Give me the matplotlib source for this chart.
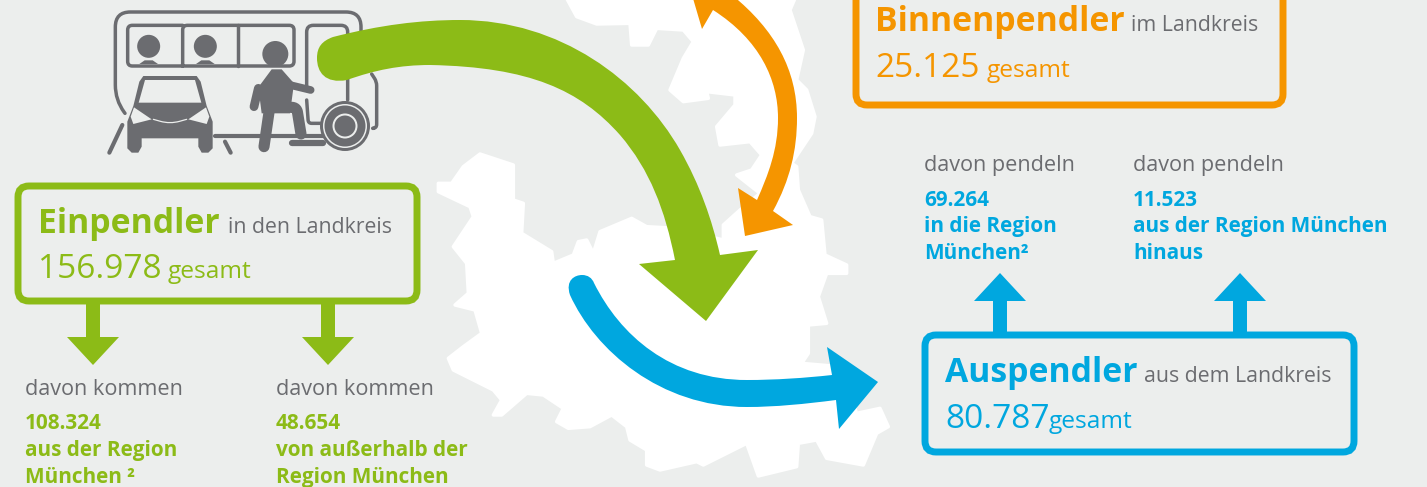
import numpy as np
import matplotlib
matplotlib.use("Agg")
import matplotlib.pyplot as plt
from matplotlib.path import Path
from matplotlib.patches import PathPatch, FancyBboxPatch, Circle, Polygon

GREEN = "#8CBB17"
ORANGE = "#F59500"
BLUE = "#00A7DF"
GRAY = "#6B6C70"
BG = "#ECEEED"

# pendler numbers and labels
titles = ["Einpendler", "Binnenpendler", "Auspendler"]
subtitles = ["in den Landkreis", "im Landkreis", "aus dem Landkreis"]
totals = ["156.978", "25.125", "80.787"]
einpendler_values = ["108.324", "48.654"]
einpendler_labels = ["aus der Region\nMünchen ²", "von außerhalb der\nRegion München"]
auspendler_values = ["69.264", "11.523"]
auspendler_labels = ["in die Region\nMünchen²", "aus der Region München\nhinaus"]

# map outline (3x crop coords)
map_outline = [(410, -5), (440, 50), (500, 72), (600, 70), (605, 135), (655, 135), (680, 85), (760, 90),
               (790, 125), (760, 175), (720, 270), (760, 305), (835, 295), (830, 275), (915, 285), (915, 315),
               (860, 380), (870, 435), (960, 425), (995, 465), (965, 510), (920, 525), (990, 580), (930, 630),
               (880, 675), (880, 720), (740, 685), (650, 680), (605, 655), (510, 695), (490, 760), (470, 720),
               (445, 725), (430, 765), (370, 790), (365, 755), (275, 700), (280, 610), (250, 600), (250, 495),
               (150, 462), (100, 500), (65, 550), (25, 550), (25, 575), (120, 620), (130, 650), (70, 740),
               (110, 790), (115, 880), (75, 915), (135, 930), (155, 1000), (100, 1040), (55, 1075), (70, 1110),
               (190, 1170), (215, 1200), (190, 1245), (215, 1245), (290, 1180), (340, 1185), (400, 1225),
               (380, 1265), (415, 1285), (480, 1280), (545, 1245), (590, 1280), (600, 1320), (650, 1350),
               (650, 1395), (690, 1410), (800, 1385), (820, 1395), (950, 1330), (985, 1428), (1100, 1400),
               (1105, 1330), (1160, 1320), (1190, 1375), (1300, 1395), (1340, 1300), (1375, 1280), (1350, 1225),
               (1280, 1240), (1230, 1100), (1115, 1090), (1135, 1060), (1135, 975), (1190, 970), (1165, 890),
               (1190, 820), (1250, 820), (1250, 795), (1185, 765), (1175, 660), (1140, 650), (1105, 570),
               (1100, 500), (1085, 490), (1145, 400), (1155, 350), (1130, 270), (1100, 240), (1120, 150),
               (1080, 30), (1095, -5)]


def curve(start, *segs, fc=GREEN, z=3):
    # segs are 3 points for a bezier, 1 point for a straight line
    verts, codes = [start], [Path.MOVETO]
    for s in segs:
        if len(s) == 3:
            verts += list(s)
            codes += [Path.CURVE4] * 3
        else:
            verts += list(s)
            codes += [Path.LINETO]
    verts.append(start)
    codes.append(Path.CLOSEPOLY)
    ax.add_patch(PathPatch(Path(verts, codes), fc=fc, ec="none", zorder=z))


def label(x, y, s, px, color=GRAY, bold=False, **kw):
    ax.text(x, y, s, fontsize=px * 0.72, color=color, family="Open Sans",
            fontweight="bold" if bold else "normal", va="baseline", ha="left", zorder=6, **kw)


def box(x0, y0, x1, y1, color):
    ax.add_patch(FancyBboxPatch((x0, y0), x1 - x0, y1 - y0, boxstyle="round,pad=0,rounding_size=11",
                                fc=BG, ec=color, lw=5, zorder=4))


def small_arrow(x, y0, y1, color, head_w=26):
    # stem from y0 to y1, head tip after y1
    d = 1 if y1 > y0 else -1
    ax.add_patch(Polygon([(x - 7, y0), (x + 7, y0), (x + 7, y1), (x + head_w, y1), (x, y1 + d * 28),
                          (x - head_w, y1), (x - 7, y1)], fc=color, ec="none", zorder=3))


fig = plt.figure(figsize=(14.27, 4.87), dpi=100, facecolor=BG)
ax = fig.add_axes([0, 0, 1, 1])
ax.set_xlim(0, 1427)
ax.set_ylim(487, 0)
ax.axis("off")

# map
ax.add_patch(Polygon([(430 + x / 3, y / 3) for x, y in map_outline], fc="white", ec="white", lw=2.5,
                     joinstyle="round", zorder=1))


# bus icon, coords from the 3x crop of it
def ic(x, y):
    return 90 + x / 3, y / 3


def iline(pts, lw=2.5, r=0, color=GRAY, closed=False):
    # polyline with rounded corners of radius r (crop coords)
    pts = [np.array(ic(*p), float) for p in pts]
    r = r / 3
    verts, codes = [pts[0]], [Path.MOVETO]
    for a, b, c in zip(pts, pts[1:], pts[2:]):
        u = (a - b) / np.linalg.norm(a - b)
        v = (c - b) / np.linalg.norm(c - b)
        verts += [b + u * r, b, b + v * r]
        codes += [Path.LINETO, Path.CURVE3, Path.CURVE3]
    verts.append(pts[-1])
    codes.append(Path.LINETO)
    ax.add_patch(PathPatch(Path(verts, codes), fc="none", ec=color, lw=lw, capstyle="round",
                           joinstyle="round", zorder=2))


def ifill(pts, color=GRAY):
    ax.add_patch(Polygon([ic(*p) for p in pts], fc=color, ec="none", zorder=2))


iline([(105, 340), (76, 300), (76, 36), (813, 36), (813, 110)], r=45)
iline([(845, 222), (860, 245), (860, 385), (850, 385)], r=12)
iline([(278, 76), (113, 76), (113, 198), (278, 198), (612, 198), (612, 76), (278, 76), (278, 198)], r=14)
iline([(443, 76), (443, 198)])
iline([(650, 270), (650, 76), (773, 76), (773, 300)], r=20)
iline([(650, 300), (655, 370), (695, 370)], r=10)
iline([(375, 408), (700, 408)], lw=3)
iline([(58, 458), (97, 375)], lw=3)
iline([(405, 425), (422, 458)], lw=3)
iline([(605, 430), (698, 430)], lw=4.5)
for cx in (176, 346):
    ax.add_patch(Circle(ic(cx, 139), 11.5, fc=GRAY, ec="none", zorder=2))
    ifill([(cx - 28, 192), (cx - 12, 181), (cx + 12, 181), (cx + 28, 192)])
# wheel
wx, wy = ic(765, 378)
ax.add_patch(Circle((wx, wy), 25, fc=GRAY, ec="none", zorder=2))
ax.add_patch(Circle((wx, wy), 22, fc=BG, ec="none", zorder=2))
ax.add_patch(Circle((wx, wy), 20.5, fc=GRAY, ec="none", zorder=2))
ax.add_patch(Circle((wx, wy), 12.5, fc=BG, ec="none", zorder=2))
ax.add_patch(Circle((wx, wy), 10.5, fc=GRAY, ec="none", zorder=2))
# car
ifill([(160, 228), (320, 228), (332, 245), (350, 318), (368, 365), (368, 445), (355, 458), (335, 458),
       (325, 440), (325, 415), (155, 415), (155, 440), (145, 458), (125, 458), (112, 445), (112, 365),
       (130, 318), (148, 245)])
ifill([(165, 240), (315, 240), (334, 308), (146, 308)], BG)
ifill([(132, 322), (185, 358), (130, 372), (122, 350)], BG)
ifill([(348, 322), (295, 358), (350, 372), (358, 350)], BG)
iline([(190, 358), (240, 372), (290, 358)], lw=0.9, r=30, color=BG)
# person
ax.add_patch(Circle(ic(556, 162), 13, fc=GRAY, ec="none", zorder=2))
ifill([(545, 208), (575, 208), (612, 250), (600, 340), (515, 340), (505, 262)])
iline([(505, 265), (492, 320)], lw=6.3)
iline([(600, 255), (662, 270)], lw=5.5)
iline([(538, 330), (522, 440)], lw=8)
iline([(555, 322), (620, 322), (633, 402)], lw=8, r=15)

# big arrows
curve((333, 37), ((380, 25), (420, 20), (460, 20)), ((560, 20), (640, 80), (680, 150)),
      ((700, 185), (712, 220), (720, 255)), [(758, 250)], [(706, 321)], [(639, 264)], [(675, 260)],
      ((665, 210), (650, 170), (620, 135)), ((580, 90), (530, 67), (430, 65)),
      ((400, 65), (375, 70), (347, 80)), ((325, 84), (317, 72), (317, 58)), ((317, 47), (322, 41), (333, 37)),
      fc=GREEN)
curve((713, 10), ((760, 40), (778, 80), (778, 118)), ((778, 150), (768, 175), (757, 200)),
      [(738, 188)], [(745, 236)], [(793, 225)], [(773, 211)],
      ((790, 180), (797, 150), (797, 118)), ((797, 70), (775, 30), (732, -5)),
      [(692, -5)], [(702, 29)], fc=ORANGE)
curve((594, 283), ((620, 335), (670, 380), (747, 380)), ((775, 380), (805, 378), (832, 375)),
      [(827, 347)], [(878, 382)], [(839, 429)], [(836, 400)],
      ((805, 404), (775, 407), (747, 407)), ((660, 407), (595, 350), (570, 295)),
      ((565, 280), (575, 275), (582, 275)), ((588, 275), (592, 278), (594, 283)), fc=BLUE)

# boxes
box(18, 186, 417, 301, GREEN)
box(856, -30, 1283, 105, ORANGE)
box(925, 335, 1354, 452, BLUE)

# small arrows
small_arrow(93, 301, 337, GREEN)
small_arrow(328, 301, 337, GREEN)
small_arrow(1000, 335, 301, BLUE)
small_arrow(1240, 335, 301, BLUE)

# box text
label(38, 233, titles[0], 33.8, GREEN, bold=True)
label(228, 233, subtitles[0], 21.3)
label(38, 278, totals[0], 33.5, GREEN)
label(168, 278, "gesamt", 24.5, GREEN)

label(875, 31, titles[1], 33.8, ORANGE, bold=True)
label(1131, 31, subtitles[1], 21.3)
label(875, 77, totals[1], 33.5, ORANGE)
label(987, 77, "gesamt", 24.5, ORANGE)

label(945, 382, titles[2], 33.8, BLUE, bold=True)
label(1144, 382, subtitles[2], 21.3)
label(945, 428, totals[2], 33.5, BLUE)
label(1049, 428, "gesamt", 24.5, BLUE)

# sub text
for x, v, t in zip((25, 276), einpendler_values, einpendler_labels):
    label(x, 395, "davon kommen", 21.7)
    label(x, 429, v, 20.8, GREEN, bold=True)
    a, b = t.split("\n")
    label(x, 456, a, 20.8, GREEN, bold=True)
    label(x, 483, b, 20.8, GREEN, bold=True)

for x, v, t in zip((924, 1133), auspendler_values, auspendler_labels):
    label(x, 171, "davon pendeln", 21.7)
    label(x, 206, v, 20.8, BLUE, bold=True)
    a, b = t.split("\n")
    label(x, 232, a, 20.8, BLUE, bold=True)
    label(x, 259, b, 20.8, BLUE, bold=True)

fig.savefig("out.png", dpi=100, facecolor=BG)
